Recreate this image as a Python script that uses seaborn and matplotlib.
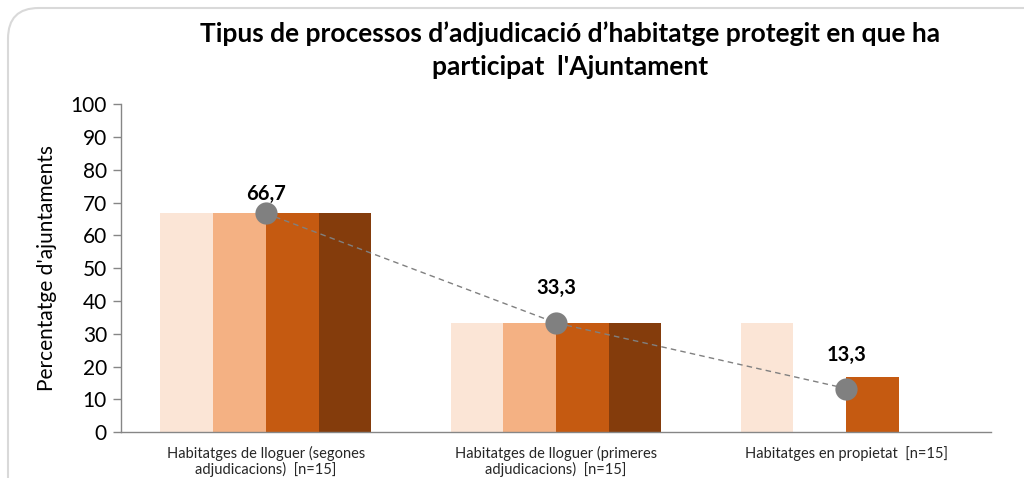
import matplotlib
matplotlib.use("Agg")
import matplotlib.pyplot as plt
from matplotlib.patches import FancyBboxPatch
import numpy as np
import pandas as pd
import seaborn as sns

# data
categories = [
    "Habitatges de lloguer (segones\nadjudicacions)  [n=15]",
    "Habitatges de lloguer (primeres\nadjudicacions)  [n=15]",
    "Habitatges en propietat  [n=15]",
]
series_names = ["Sèrie 1", "Sèrie 2", "Sèrie 3", "Sèrie 4"]
series_values = [
    [66.7, 33.3, 33.3],
    [66.7, 33.3, 0.0],
    [66.7, 33.3, 16.7],
    [66.7, 33.3, 0.0],
]
total_values = [66.7, 33.3, 13.3]
total_labels = ["66,7", "33,3", "13,3"]

palette = ["#FBE5D6", "#F4B183", "#C55A11", "#843C0C"]
label_offsets = [14, 25, 24]  # points above the marker

rows = []
for name, vals in zip(series_names, series_values):
    for cat, v in zip(categories, vals):
        rows.append({"categoria": cat, "serie": name, "valor": v})
df = pd.DataFrame(rows)

sns.set_theme(style="white")
plt.rcParams["font.family"] = ["Lato", "DejaVu Sans"]

fig = plt.figure(figsize=(10.24, 4.78), dpi=100)
ax = fig.add_axes([0.118, 0.096, 0.850, 0.686])

# chart area border
border = FancyBboxPatch((8 / 1024, -0.5), 1.2, 1.5 - 8 / 478, transform=fig.transFigure,
                        boxstyle="round,pad=0,rounding_size=0.03",
                        facecolor="none", edgecolor="#D9D9D9", linewidth=1.5,
                        mutation_aspect=1024 / 478)
fig.patches.append(border)

sns.barplot(data=df, x="categoria", y="valor", hue="serie", palette=palette,
            saturation=1, width=0.727, gap=0, linewidth=0, legend=False, ax=ax)

xpos = np.arange(len(categories))
sns.lineplot(x=xpos, y=total_values, ax=ax, color="#808080", linestyle=(0, (4, 3)),
             linewidth=1, marker="o", markersize=16, markeredgewidth=0)

for x, y, lab, off in zip(xpos, total_values, total_labels, label_offsets):
    ax.annotate(lab, (x, y), xytext=(0, off), textcoords="offset points",
                ha="center", va="center", fontsize=14.5, fontweight="bold", color="black")

ax.set_xlim(-0.5, 2.5)
ax.set_ylim(0, 100)
ax.set_yticks(range(0, 101, 10))
ax.set_xlabel("")
ax.set_ylabel("Percentatge d'ajuntaments", fontsize=15, color="black", labelpad=10)
ax.tick_params(axis="y", which="both", left=True, length=6, width=1, color="#868686",
               labelsize=15, labelcolor="black", pad=4)
ax.tick_params(axis="x", bottom=False, labelsize=10.5, labelcolor="#262626", pad=4)
for lab in ax.get_xticklabels():
    lab.set_ha("center")
    lab.set_multialignment("center")
    lab.set_linespacing(1.05)

for side in ["top", "right"]:
    ax.spines[side].set_visible(False)
for side in ["left", "bottom"]:
    ax.spines[side].set_color("#868686")
    ax.spines[side].set_linewidth(1)

fig.text(0.557, 1 - 21 / 478,
         "Tipus de processos d’adjudicació d’habitatge protegit en que ha\nparticipat  l'Ajuntament",
         ha="center", va="top", fontsize=19, fontweight="bold", color="black", linespacing=1.45)

fig.savefig("out.png", dpi=100)
